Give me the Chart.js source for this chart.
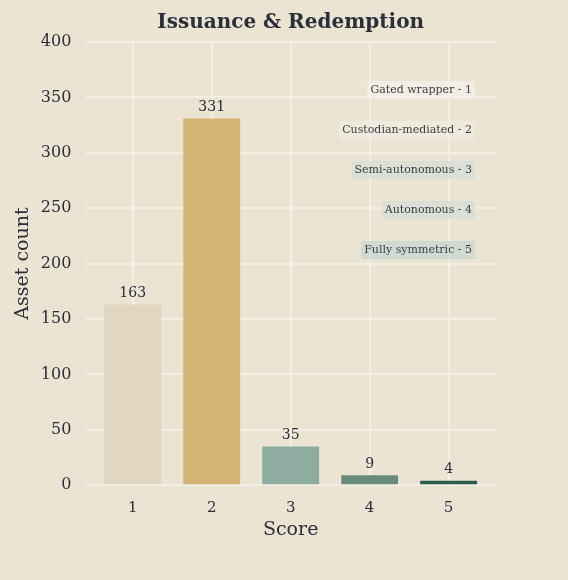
<!DOCTYPE html>
<html>
<head>
<meta charset="utf-8">
<title>Issuance & Redemption</title>
<script src="https://cdn.jsdelivr.net/npm/chart.js@4"></script>
<style>
  html, body { margin: 0; padding: 0; background: #ebe4d2; }
  #wrap { width: 568px; height: 580px; }
</style>
</head>
<body>
<div id="wrap"><canvas id="score-chart"></canvas></div>
<script>
const scores = [1, 2, 3, 4, 5];
const assetCounts = [163, 331, 35, 9, 4];
const barColors = ['#e1d6c1', '#d4b474', '#8eaca0', '#688b7b', '#2d5e4d'];
const scoreNames = ['Gated wrapper - 1', 'Custodian-mediated - 2', 'Semi-autonomous - 3', 'Autonomous - 4', 'Fully symmetric - 5'];
const noteBoxes = ['rgba(245,242,235,0.75)', 'rgba(240,236,226,0.75)', 'rgba(214,222,214,0.8)', 'rgba(214,222,214,0.8)', 'rgba(205,216,210,0.85)'];
const yTicks = [0, 50, 100, 150, 200, 250, 300, 350, 400];

const serif = "'DejaVu Serif', serif";
const ink = '#2a2f3a';

// title, bar values and the score legend on the right
const decorations = {
    id: 'decorations',
    afterDatasetsDraw(chart) {
        const ctx = chart.ctx;
        const area = chart.chartArea;
        ctx.save();
        ctx.fillStyle = ink;
        ctx.textAlign = 'center';
        ctx.textBaseline = 'middle';
        ctx.font = 'bold 20px ' + serif;
        ctx.fillText('Issuance & Redemption', (area.left + area.right) / 2, 23);

        ctx.font = '14px ' + serif;
        ctx.textBaseline = 'bottom';
        chart.getDatasetMeta(0).data.forEach((bar, i) => {
            ctx.fillText(String(assetCounts[i]), bar.x, bar.y - 4);
        });

        ctx.font = '11px ' + serif;
        ctx.textAlign = 'right';
        ctx.textBaseline = 'middle';
        const right = area.right - 24;
        scoreNames.forEach((name, i) => {
            const y = area.top + 48 + i * 40;
            const w = ctx.measureText(name).width;
            ctx.fillStyle = noteBoxes[i];
            ctx.fillRect(right - w - 3, y - 9, w + 6, 18);
            ctx.fillStyle = '#3a3d44';
            ctx.fillText(name, right, y);
        });
        ctx.restore();
    }
};

function buildScoreChart() {
    const ctx = document.getElementById('score-chart').getContext('2d');
    return new Chart(ctx, {
        type: 'bar',
        data: {
            datasets: [{
                data: scores.map((s, i) => ({ x: s, y: assetCounts[i] })),
                backgroundColor: barColors,
                borderWidth: 0,
                barPercentage: 0.72,
                categoryPercentage: 1
            }]
        },
        options: {
            responsive: true,
            maintainAspectRatio: false,
            animation: false,
            layout: { padding: { top: 42, right: 72, bottom: 37, left: 6 } },
            plugins: {
                legend: { display: false },
                tooltip: { enabled: false }
            },
            scales: {
                x: {
                    type: 'linear',
                    min: 0.4,
                    max: 5.6,
                    offset: false,
                    afterBuildTicks: axis => { axis.ticks = scores.map(v => ({ value: v })); },
                    grid: { color: '#f3efe5', lineWidth: 2, drawTicks: false, offset: false },
                    border: { display: false },
                    ticks: { color: ink, padding: 14, font: { family: serif, size: 15 } },
                    title: { display: true, text: 'Score', color: ink, padding: { top: -13, bottom: 2 }, font: { family: serif, size: 19 } }
                },
                y: {
                    min: 0,
                    max: 400,
                    afterBuildTicks: axis => { axis.ticks = yTicks.map(v => ({ value: v })); },
                    grid: { color: '#f3efe5', lineWidth: 2, drawTicks: false },
                    border: { color: '#efe9dc', width: 1 },
                    ticks: { color: ink, padding: 14, font: { family: serif, size: 16 } },
                    title: { display: true, text: 'Asset count', color: ink, padding: { top: 6, bottom: -8 }, font: { family: serif, size: 19 } }
                }
            }
        },
        plugins: [decorations]
    });
}

document.addEventListener('DOMContentLoaded', buildScoreChart);
</script>
</body>
</html>
